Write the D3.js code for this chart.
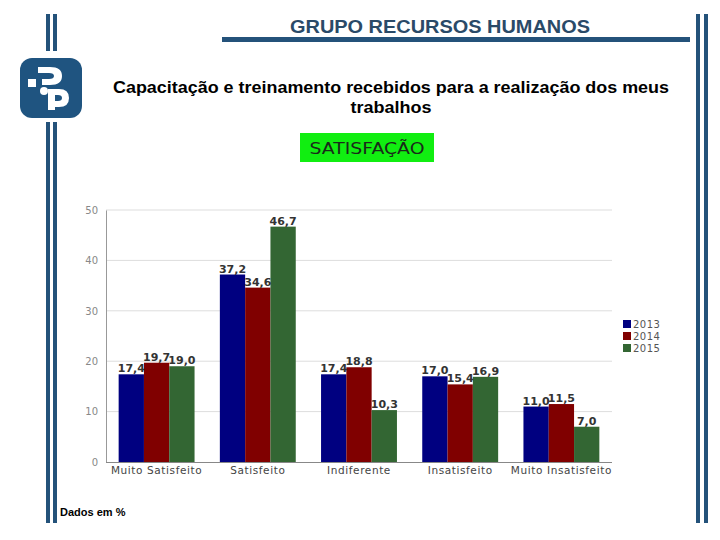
<!DOCTYPE html>
<html><head><meta charset="utf-8">
<script src="https://cdn.jsdelivr.net/npm/d3@7"></script>
<style>body{margin:0;background:#fff}svg{display:block}</style>
</head><body>
<script>
const categories = ["Muito Satisfeito","Satisfeito","Indiferente","Insatisfeito","Muito Insatisfeito"];
const years = ["2013","2014","2015"];
const values2013 = [17.4, 37.2, 17.4, 17.0, 11.0];
const values2014 = [19.7, 34.6, 18.8, 15.4, 11.5];
const values2015 = [19.0, 46.7, 10.3, 16.9, 7.0];
const yTicks = [0,10,20,30,40,50];
const colors = ["#000080","#800000","#336633"];
const series = [values2013, values2014, values2015];

const W=720,H=540;
const svg=d3.select("body").append("svg").attr("width",W).attr("height",H);
const frame="#24527a";
// decorative frame
svg.append("rect").attr("x",46).attr("y",14).attr("width",4).attr("height",37).attr("fill",frame);
svg.append("rect").attr("x",53).attr("y",14).attr("width",4).attr("height",37).attr("fill",frame);
svg.append("rect").attr("x",46).attr("y",122).attr("width",4).attr("height",401).attr("fill",frame);
svg.append("rect").attr("x",53).attr("y",122).attr("width",4).attr("height",401).attr("fill",frame);
svg.append("rect").attr("x",696).attr("y",14).attr("width",4).attr("height",509).attr("fill",frame);
svg.append("rect").attr("x",704).attr("y",14).attr("width",4).attr("height",509).attr("fill",frame);
svg.append("rect").attr("x",222).attr("y",37).attr("width",468).attr("height",5).attr("fill",frame);
// logo
const lg=svg.append("g");
lg.append("rect").attr("x",20).attr("y",58).attr("width",62).attr("height",60).attr("rx",12).attr("fill","#1f5480");
lg.append("path").attr("d","M38,67 L50,67 Q62,67 62,76 Q62,85 50,85 L42,85 L42,79 L49,79 Q54,79 54,76 Q54,73 49,73 L38,73 Z").attr("fill","#fff");
lg.append("path").attr("d","M28,79 L36,79 L36,87 L28,87 Z").attr("fill","#fff");
lg.append("circle").attr("cx",44).attr("cy",91).attr("r",4).attr("fill","#fff");
lg.append("path").attr("d","M48,89 L59,89 Q69,89 69,98 Q69,107 59,107 L55,107 L55,110 L48,110 Z M55,95 L55,101 L58,101 Q62,101 62,98 Q62,95 58,95 Z").attr("fill","#fff").attr("fill-rule","evenodd");

// titles
svg.append("text").attr("x",440).attr("y",33).attr("text-anchor","middle").attr("textLength",300).attr("lengthAdjust","spacingAndGlyphs")
  .style("font-family","Liberation Sans, Arial, sans-serif").style("font-size","18px").style("font-weight","bold").attr("fill","#2a4a68").text("GRUPO RECURSOS HUMANOS");
svg.append("text").attr("x",391).attr("y",93).attr("text-anchor","middle").attr("textLength",556).attr("lengthAdjust","spacingAndGlyphs")
  .style("font-family","Liberation Sans, Arial, sans-serif").style("font-size","17px").style("font-weight","bold").attr("fill","#000").text("Capacitação e treinamento recebidos para a realização dos meus");
svg.append("text").attr("x",391).attr("y",113).attr("text-anchor","middle").attr("textLength",81).attr("lengthAdjust","spacingAndGlyphs")
  .style("font-family","Liberation Sans, Arial, sans-serif").style("font-size","17px").style("font-weight","bold").attr("fill","#000").text("trabalhos");
svg.append("rect").attr("x",300).attr("y",133).attr("width",134).attr("height",29).attr("fill","#11ee11");
svg.append("text").attr("x",367).attr("y",154).attr("text-anchor","middle").attr("textLength",115).attr("lengthAdjust","spacingAndGlyphs")
  .style("font-family","DejaVu Sans, sans-serif").style("font-size","15px").attr("fill","#1a2a1a").text("SATISFAÇÃO");
svg.append("text").attr("x",60).attr("y",516)
  .style("font-family","Liberation Sans, Arial, sans-serif").style("font-size","11px").style("font-weight","bold").attr("fill","#000").text("Dados em %");

// chart
const x0=d3.scaleBand().domain(categories).range([106,612]).paddingInner(0.25).paddingOuter(0.125);
const x1=d3.scaleBand().domain(years).range([0,x0.bandwidth()]);
const y=d3.scaleLinear().domain([0,50]).range([462,210]);

const grid=svg.append("g");
grid.selectAll("line").data(yTicks.filter(d=>d>0)).join("line")
  .attr("x1",106).attr("x2",612).attr("y1",d=>y(d)).attr("y2",d=>y(d)).attr("stroke","#dddddd");

const yAxis=svg.append("g").attr("transform","translate(106,0)").call(d3.axisLeft(y).tickValues(yTicks).tickSize(0).tickPadding(8).tickFormat(d3.format("d")));
yAxis.select(".domain").attr("stroke","#999");
yAxis.selectAll("text").style("font-family","DejaVu Sans, sans-serif").style("font-size","10px").attr("fill","#888");

const groups=svg.append("g").selectAll("g").data(categories).join("g").attr("transform",d=>`translate(${x0(d)},0)`);
groups.selectAll("rect").data((d,i)=>years.map((yr,j)=>({yr,v:series[j][i],j}))).join("rect")
  .attr("x",d=>x1(d.yr)).attr("width",x1.bandwidth()).attr("y",d=>y(d.v)).attr("height",d=>y(0)-y(d.v)).attr("fill",d=>colors[d.j]);
const fmt=v=>v.toFixed(1).replace(".",",");
groups.selectAll("text").data((d,i)=>years.map((yr,j)=>({yr,v:series[j][i],j}))).join("text")
  .attr("x",d=>x1(d.yr)+x1.bandwidth()/2).attr("y",d=>y(d.v)-2).attr("text-anchor","middle")
  .style("font-family","DejaVu Sans, sans-serif").style("font-size","11px").style("font-weight","bold").attr("fill","#333").text(d=>fmt(d.v));

const xAxis=svg.append("g").attr("transform","translate(0,462)").call(d3.axisBottom(x0).tickSize(0).tickPadding(5));
xAxis.select(".domain").attr("stroke","#888").attr("d","M106,0.5H612");
xAxis.selectAll("text").style("font-family","DejaVu Sans, sans-serif").style("font-size","10.5px").style("letter-spacing","0.6px").attr("fill","#444");

const leg=svg.append("g").selectAll("g").data(years).join("g").attr("transform",(d,i)=>`translate(623,${320+i*12})`);
leg.append("rect").attr("width",8).attr("height",8).attr("fill",(d,i)=>colors[i]);
leg.append("text").attr("x",10).attr("y",8).style("font-family","DejaVu Sans, sans-serif").style("font-size","10px").style("letter-spacing","0.5px").attr("fill","#555").text(d=>d);
</script>
</body></html>
